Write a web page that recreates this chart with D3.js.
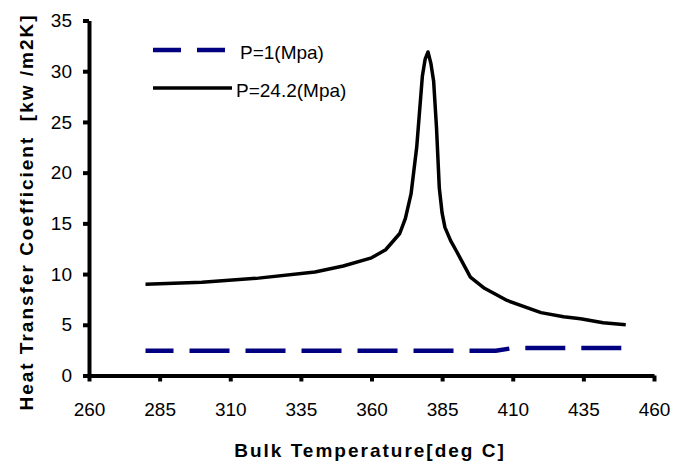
<!DOCTYPE html>
<html>
<head>
<meta charset="utf-8">
<script src="https://cdn.jsdelivr.net/npm/d3@7"></script>
<style>
  body { margin: 0; background: #fff; }
  text { font-family: "Liberation Sans", Arial, sans-serif; }
</style>
</head>
<body>
<div id="chart-area"></div>
<script>
// P = 24.2 MPa (supercritical)
var temps_hi = [280, 300, 320, 340, 350, 360, 365, 370, 372, 374, 376, 377, 378, 379, 380, 381, 382, 383, 384, 385, 386, 388, 390, 395, 400, 408, 420, 428, 434, 442, 450];
var htc_hi = [9.0, 9.2, 9.6, 10.2, 10.8, 11.6, 12.4, 14.0, 15.5, 17.9, 22.5, 26.0, 29.5, 31.2, 31.9, 30.8, 29.0, 24.5, 18.5, 16.0, 14.6, 13.3, 12.3, 9.7, 8.6, 7.4, 6.2, 5.8, 5.6, 5.2, 5.0];
// P = 1 MPa
var temps_lo = [280, 290, 300, 310, 320, 330, 340, 350, 360, 370, 380, 390, 400, 404, 410, 420, 430, 440, 450];
var htc_lo = [2.45, 2.45, 2.45, 2.45, 2.45, 2.45, 2.45, 2.45, 2.45, 2.45, 2.45, 2.45, 2.45, 2.45, 2.7, 2.7, 2.7, 2.7, 2.7];
var x_ticks = [260, 285, 310, 335, 360, 385, 410, 435, 460];
var y_ticks = [0, 5, 10, 15, 20, 25, 30, 35];
var series_names = ["P=1(Mpa)", "P=24.2(Mpa)"];

var width = 673, height = 464;
var margin = {top: 20.5, right: 19, bottom: 88.5, left: 89};

var svg = d3.select("#chart-area").append("svg")
    .attr("width", width)
    .attr("height", height);

var xScale = d3.scaleLinear()
    .domain([260, 460])
    .range([margin.left, width - margin.right]);
var yScale = d3.scaleLinear()
    .domain([0, 35])
    .range([height - margin.bottom, margin.top]);

var line = d3.line()
    .x(function (d) { return xScale(d[0]); })
    .y(function (d) { return yScale(d[1]); });

var lo_points = temps_lo.map(function (t, i) { return [t, htc_lo[i]]; });
var hi_points = temps_hi.map(function (t, i) { return [t, htc_hi[i]]; });

svg.append("path")
    .datum(lo_points)
    .attr("d", line)
    .attr("fill", "none")
    .attr("stroke", "#000080")
    .attr("stroke-width", 4.5)
    .attr("stroke-dasharray", "40,16")
    .attr("stroke-dashoffset", 12);

svg.append("path")
    .datum(hi_points)
    .attr("d", line)
    .attr("fill", "none")
    .attr("stroke", "#000")
    .attr("stroke-width", 3.5)
    .attr("stroke-linejoin", "round");

// axes
var xAxis = svg.append("g")
    .attr("transform", "translate(0," + yScale(0) + ")")
    .call(d3.axisBottom(xScale).tickValues(x_ticks).tickSize(6).tickPadding(21).tickSizeOuter(0));
var yAxis = svg.append("g")
    .attr("transform", "translate(" + xScale(260) + ",0)")
    .call(d3.axisLeft(yScale).tickValues(y_ticks).tickSize(6).tickPadding(11).tickSizeOuter(0));

[xAxis, yAxis].forEach(function (g) {
    g.select(".domain").attr("stroke", "#000").attr("stroke-width", 4);
    g.selectAll(".tick line").attr("stroke", "#000").attr("stroke-width", 4);
    g.selectAll(".tick text")
        .attr("fill", "#000")
        .style("font-size", "19px")
        .style("font-family", "'Liberation Sans', Arial, sans-serif");
});

// axis titles
svg.append("text")
    .attr("x", 370)
    .attr("y", 457)
    .attr("text-anchor", "middle")
    .style("font-size", "19px")
    .style("font-weight", "bold")
    .style("letter-spacing", "2px")
    .text("Bulk Temperature[deg C]");

svg.append("text")
    .attr("transform", "translate(33,212) rotate(-90)")
    .attr("text-anchor", "middle")
    .style("font-size", "19px")
    .style("font-weight", "bold")
    .style("letter-spacing", "2px")
    .style("white-space", "pre")
    .text("Heat Transfer Coefficient  [kw /m2K]");

// legend
var legend = svg.append("g");
legend.append("line")
    .attr("x1", 153).attr("x2", 225)
    .attr("y1", 50).attr("y2", 50)
    .attr("stroke", "#000080")
    .attr("stroke-width", 4.5)
    .attr("stroke-dasharray", "28,16");
legend.append("text")
    .attr("x", 240).attr("y", 59)
    .style("font-size", "19px")
    .text(series_names[0]);
legend.append("line")
    .attr("x1", 153).attr("x2", 232)
    .attr("y1", 88).attr("y2", 88)
    .attr("stroke", "#000")
    .attr("stroke-width", 3.5);
legend.append("text")
    .attr("x", 236).attr("y", 97)
    .style("font-size", "19px")
    .text(series_names[1]);
</script>
</body>
</html>
